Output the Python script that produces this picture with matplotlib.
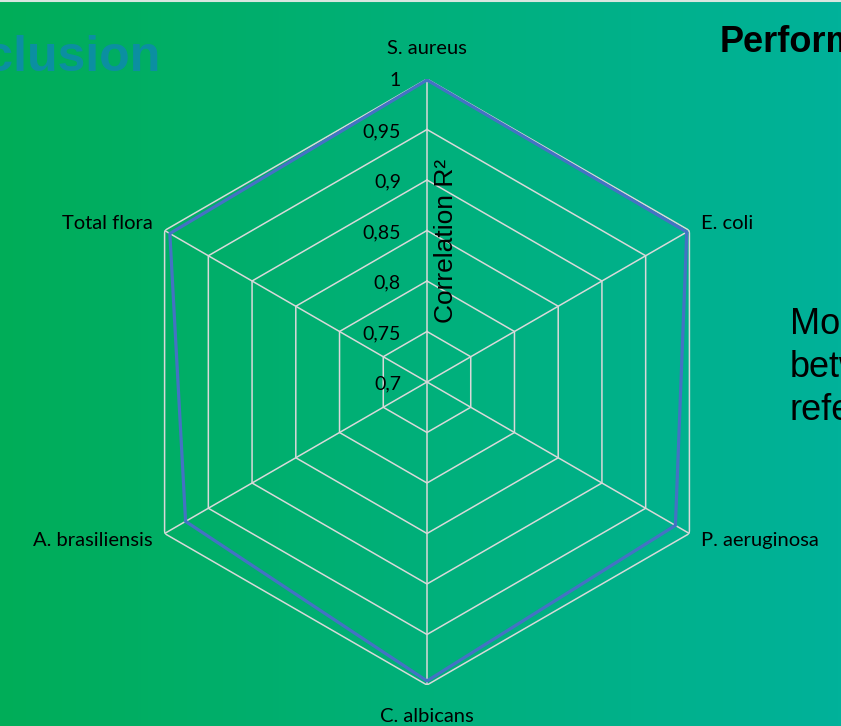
import numpy as np
import matplotlib.pyplot as plt
from matplotlib.colors import LinearSegmentedColormap

# radar chart of correlation R2 per organism
categories = ["S. aureus", "E. coli", "P. aeruginosa", "C. albicans",
              "A. brasiliensis", "Total flora"]
r2 = [0.999, 0.997, 0.984, 0.996, 0.976, 0.994]
ticks = [0.7, 0.75, 0.8, 0.85, 0.9, 0.95, 1.0]
tick_labels = ["0,7", "0,75", "0,8", "0,85", "0,9", "0,95", "1"]
side_lines = ["More", "between", "reference"]

W, H = 841, 726
fig = plt.figure(figsize=(W / 100, H / 100), dpi=100)

# slide background
bg = fig.add_axes([0, 0, 1, 1], zorder=0)
cmap = LinearSegmentedColormap.from_list("slide", ["#00AD58", "#00B07A", "#00B29A"])
bg.imshow(np.linspace(0, 1, 256).reshape(1, -1), aspect="auto", cmap=cmap,
          extent=[0, 1, 0, 1])
bg.plot([0, 1], [0.999, 0.999], color="#D8E6E0", lw=1.5)
bg.set_xlim(0, 1); bg.set_ylim(0, 1)
bg.axis("off")

# slide texts, cut off at the edges
fig.text(160 / W, 1 - 71 / H, "Conclusion", ha="right", va="baseline",
         fontsize=36, fontweight="bold", color="#0B8FA1", family="Liberation Sans")
fig.text(720 / W, 1 - 52 / H, "Performance", ha="left", va="baseline",
         fontsize=26, fontweight="bold", color="black", family="Liberation Sans")
for i, line in enumerate(side_lines):
    fig.text(790 / W, 1 - (334 + 43 * i) / H, line, ha="left", va="baseline",
             fontsize=26, color="black", family="Liberation Sans")

# chart
cx, cy, R = 427, 382, 303
ax = fig.add_axes([(cx - R) / W, (H - cy - R) / H, 2 * R / W, 2 * R / H],
                  projection="polar", zorder=1)
ax.patch.set_alpha(0)
ax.set_theta_zero_location("N")
ax.set_theta_direction(-1)
ax.set_ylim(ticks[0], ticks[-1])
ax.grid(False)
ax.spines["polar"].set_visible(False)
ax.set_xticks([]); ax.set_yticks([])

n = len(categories)
theta = np.linspace(0, 2 * np.pi, n, endpoint=False)
closed = np.append(theta, theta[0])

grid_c = "#D9D9D9"
for t in ticks[1:]:
    ax.plot(closed, [t] * (n + 1), color=grid_c, lw=1.1, zorder=1)
for th in theta:
    ax.plot([th, th], [ticks[0], ticks[-1]], color=grid_c, lw=1.1, zorder=1)

ax.plot(closed, r2 + r2[:1], color="#4472C4", lw=2.3, zorder=3)

for t, lbl in zip(ticks, tick_labels):
    ax.annotate(lbl, xy=(0, t), xytext=(-26, -2), textcoords="offset pixels",
                ha="right", va="center", fontsize=14, family="Lato", color="black")

for th, name in zip(theta, categories):
    s, c = np.sin(th), np.cos(th)
    if abs(s) < 0.1:
        dx, dy, ha = 0, 31 * np.sign(c), "center"
    else:
        dx, dy, ha = 12 * np.sign(s), 7 * np.sign(c), ("left" if s > 0 else "right")
    ax.annotate(name, xy=(th, ticks[-1]), xytext=(dx, dy), textcoords="offset pixels",
                ha=ha, va="center", fontsize=14.5, family="Lato", color="black")

fig.text(446 / W, 1 - 241 / H, "Correlation R²", rotation=90, ha="center", va="center",
         fontsize=19, family="Liberation Sans", color="black")

fig.savefig("out.png", dpi=100)
